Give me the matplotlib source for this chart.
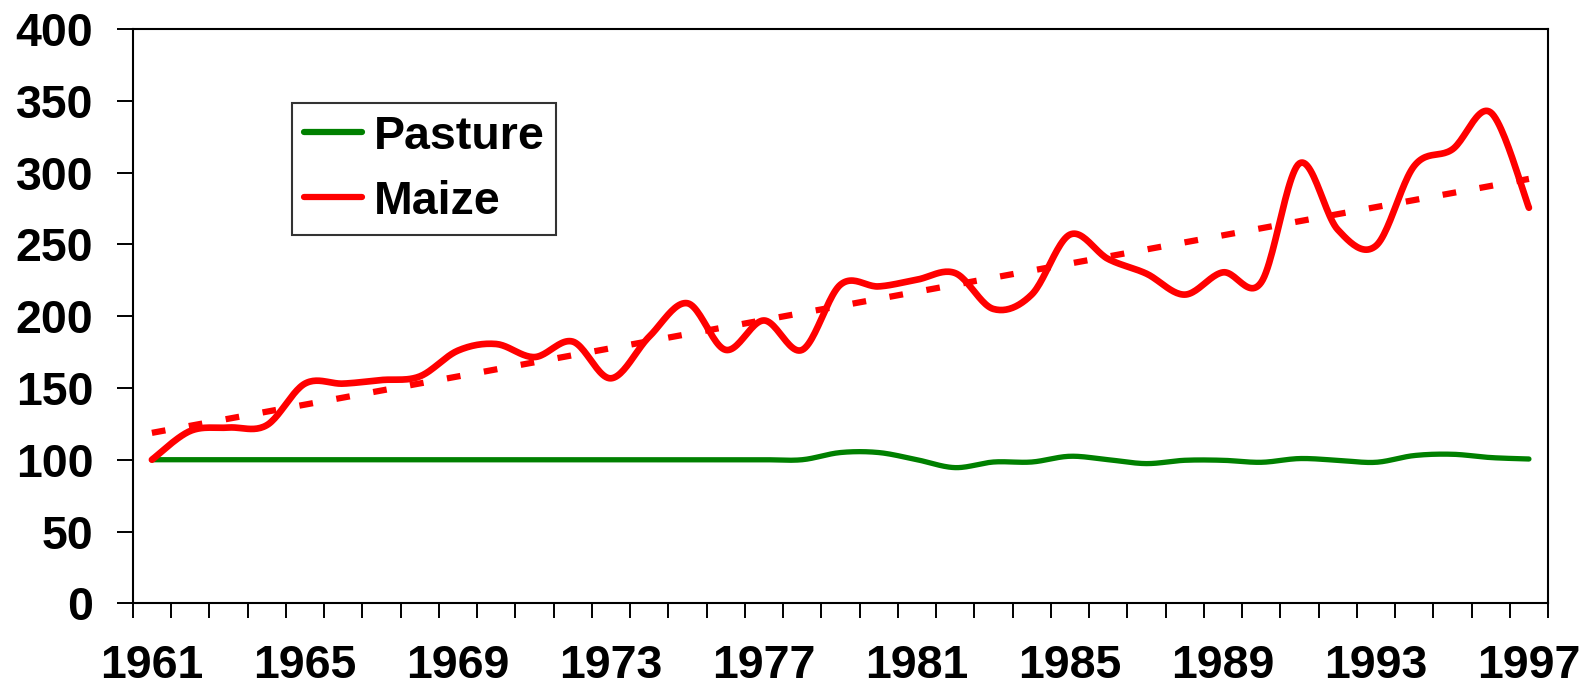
import numpy as np
import matplotlib
matplotlib.use("Agg")
import matplotlib.pyplot as plt

years = list(range(1961, 1998))

pasture = [100, 100, 100, 100, 100, 100, 100, 100, 100, 100,
           100, 100, 100, 100, 100, 100, 100, 100, 105, 105,
           100, 94.5, 98.4, 98.4, 102.4, 100, 97.3, 99.6, 99.6, 98.2,
           100.8, 99.6, 98.2, 102.9, 103.8, 101.5, 100.5]

maize = [100, 120, 122.4, 124, 153, 153, 155.5, 158, 176, 180.6,
         171.5, 182.3, 156.7, 185.7, 209, 176.5, 197, 176.5, 221.9, 220.7,
         225.4, 230, 205, 215, 256.8, 239.8, 229.6, 215, 230.5, 223.5,
         306.4, 260.3, 249, 304.6, 316.2, 341.9, 275.5]

label_years = [1961, 1965, 1969, 1973, 1977, 1981, 1985, 1989, 1993, 1997]
y_ticks = [0, 50, 100, 150, 200, 250, 300, 350, 400]


def smooth(x, y, n=24):
    # catmull-rom through the points, like excel's "smoothed line"
    x = np.asarray(x, dtype=np.float64)
    y = np.asarray(y, dtype=np.float64)
    px = np.concatenate([[x[0]], x, [x[-1]]])
    py = np.concatenate([[y[0]], y, [y[-1]]])
    X = []
    Y = []
    t = np.linspace(0, 1, n, endpoint=False)
    for k in range(1, len(px) - 2):
        for p, out in ((px, X), (py, Y)):
            p0, p1, p2, p3 = p[k - 1], p[k], p[k + 1], p[k + 2]
            out.extend(0.5 * (2 * p1 + (-p0 + p2) * t
                              + (2 * p0 - 5 * p1 + 4 * p2 - p3) * t**2
                              + (-p0 + 3 * p1 - 3 * p2 + p3) * t**3))
    X.append(x[-1])
    Y.append(y[-1])
    return X, Y


plt.rcParams["font.family"] = ["Liberation Sans", "DejaVu Sans"]
plt.rcParams["font.weight"] = "bold"

fig = plt.figure(figsize=(15.92, 6.89), dpi=100)
ax = fig.add_axes([0.0834, 0.1244, 0.889, 0.8335])

xs = np.arange(len(years))

X, Y = smooth(xs, pasture)
ax.plot(X, Y, color="#008000", lw=3.8, solid_capstyle="round",
        solid_joinstyle="round", label="Pasture")
X, Y = smooth(xs, maize)
ax.plot(X, Y, color="#ff0000", lw=4.8, solid_capstyle="round",
        solid_joinstyle="round", label="Maize")

# linear trend of maize
a, b = np.polyfit(xs, maize, 1)
ax.plot(xs, a * xs + b, color="#ff0000", lw=4.5, linestyle=(0, (2.2, 3.8)),
        dash_capstyle="butt")

ax.set_xlim(-0.5, len(years) - 0.5)
ax.set_ylim(0, 400)

ax.set_xticks(np.arange(len(years) + 1) - 0.5)
ax.set_xticklabels([])
ax.set_xticks([years.index(yr) for yr in label_years], minor=True)
ax.set_xticklabels([str(yr) for yr in label_years], minor=True)
ax.tick_params(axis="x", which="major", direction="out", length=11,
               width=1.4, color="black")
ax.tick_params(axis="x", which="minor", length=0, pad=29.5, labelsize=33.5)

ax.set_yticks(y_ticks)
ax.tick_params(axis="y", direction="out", length=11.5, width=1.4,
               pad=17, labelsize=33.5)

for s in ax.spines.values():
    s.set_linewidth(1.5)
    s.set_color("black")

leg = ax.legend(loc="upper left", bbox_to_anchor=(292 / 1592, 1 - 103 / 689),
                bbox_transform=fig.transFigure, fontsize=33.5, frameon=True,
                fancybox=False, shadow=False, borderpad=0.25, labelspacing=0.45,
                handlelength=1.25, handletextpad=0.25, borderaxespad=0)
leg.get_frame().set_edgecolor("black")
leg.get_frame().set_linewidth(1.5)
for line in leg.get_lines():
    line.set_linewidth(4.5)

fig.savefig("out.png", dpi=100)
